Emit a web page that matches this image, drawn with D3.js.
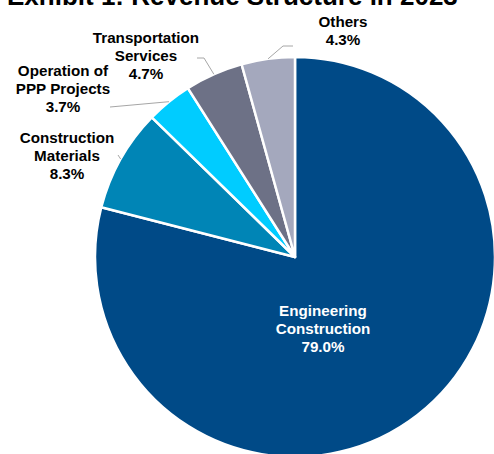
<!DOCTYPE html>
<html>
<head>
<meta charset="utf-8">
<script src="https://cdn.jsdelivr.net/npm/d3@7"></script>
<style>
  body { margin: 0; background: #fff; }
  text { font-family: "Liberation Sans", Arial, sans-serif; font-weight: bold; }
</style>
</head>
<body>
<div id="chart"></div>
<script>
(function() {
  const width = 494;
  const height = 454;

  // revenue share by segment, clockwise from 12 o'clock
  const segments = ["Engineering Construction", "Construction Materials", "Operation of PPP Projects", "Transportation Services", "Others"];
  const shares = [79.0, 8.3, 3.7, 4.7, 4.3];
  const labelLines = [
    ["Engineering", "Construction"],
    ["Construction", "Materials"],
    ["Operation of", "PPP Projects"],
    ["Transportation", "Services"],
    ["Others"]
  ];
  const colors = ["#004a87", "#0085b6", "#00ccff", "#6d7186", "#a4a8bd"];

  const cx = 295, cy = 257, radius = 200;

  // label block placement (center x, first baseline) and leader elbows
  const labelPos = [
    { x: 323, y: 316, inside: true },
    { x: 67, y: 143, elbow: [118, 155] },
    { x: 63, y: 76, elbow: [110, 107] },
    { x: 146, y: 43, elbow: [204, 58], end: [197, 58] },
    { x: 343, y: 27, elbow: [283, 46], end: [293, 46] }
  ];

  const data = segments.map((s, i) => ({ name: s, value: shares[i], lines: labelLines[i], pos: labelPos[i], color: colors[i] }));

  const svg = d3.select('#chart')
    .append('svg')
      .attr('width', width)
      .attr('height', height);

  svg.append("text")
    .attr("x", 7)
    .attr("y", 5)
    .style("font-size", "26px")
    .attr("fill", "#000")
    .text("Exhibit 1: Revenue Structure in 2023");

  const pie = d3.pie().sort(null).value(d => d.value);
  const arc = d3.arc().innerRadius(0).outerRadius(radius);
  const edge = d3.arc().innerRadius(radius).outerRadius(radius);

  const g = svg.append("g")
    .attr("transform", `translate(${cx}, ${cy})`);

  const arcs = pie(data);

  g.selectAll(".slice")
    .data(arcs)
    .enter().append("path")
      .attr("class", "slice")
      .attr("d", arc)
      .attr("fill", d => d.data.color)
      .attr("stroke", "#fff")
      .attr("stroke-width", 2.5)
      .attr("stroke-linejoin", "round");

  // leader lines
  arcs.forEach(d => {
    const p = d.data.pos;
    if (p.inside) return;
    const [ex, ey] = edge.centroid(d);
    const pts = [[cx + ex, cy + ey], p.elbow];
    if (p.end) pts.push(p.end);
    svg.append("path")
      .attr("d", d3.line()(pts))
      .attr("fill", "none")
      .attr("stroke", "#a6a6a6")
      .attr("stroke-width", 1);
  });

  const labels = svg.selectAll(".label")
    .data(data)
    .enter().append("text")
      .attr("class", "label")
      .attr("text-anchor", "middle")
      .style("font-size", "15.2px")
      .attr("fill", d => d.pos.inside ? "#fff" : "#000");

  labels.each(function(d) {
    const t = d3.select(this);
    const lines = d.lines.concat([d.value.toFixed(1) + "%"]);
    lines.forEach((ln, i) => {
      t.append("tspan")
        .attr("x", d.pos.x)
        .attr("y", d.pos.y + i * 17.8)
        .text(ln);
    });
  });
})();
</script>
</body>
</html>
